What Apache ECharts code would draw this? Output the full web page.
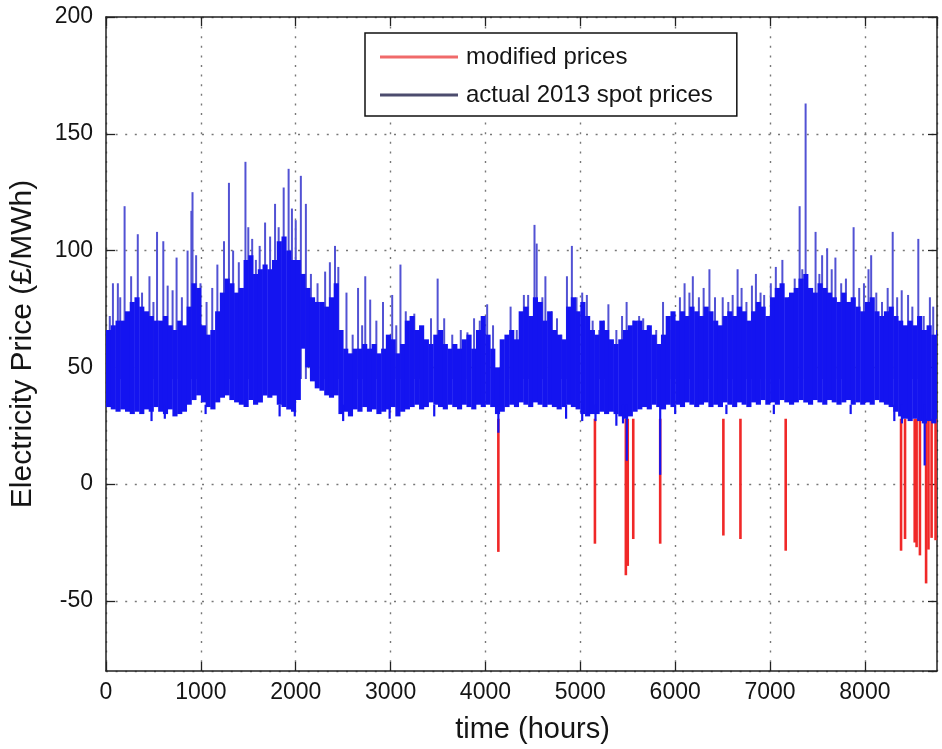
<!DOCTYPE html>
<html><head><meta charset="utf-8">
<script src="https://cdn.jsdelivr.net/npm/echarts@6/dist/echarts.min.js"></script>
<style>html,body{margin:0;padding:0;background:#fff}#c{width:942px;height:749px}</style>
</head><body><div id="c"></div><script>
// ---- data ----
const seriesNames = ['modified prices', 'actual 2013 spot prices'];
const xTitle = 'time (hours)';
const yTitle = 'Electricity Price (£/MWh)';

// dense body of the hourly prices: one [low, high] envelope per 50-hour block, starting at hour 0
const bandStepHours = 50;
const bandHigh = [
  66,68,70,70,74,78,80,76,74,72, 70,70,72,68,66,70,68,76,86,84,
  68,64,66,74,82,88,86,82,84,96, 98,90,92,94,92,96,104,106,100,96,
  96,90,84,80,78,78,76,80,86,66, 58,56,58,58,60,58,60,56,58,64,
  62,56,60,70,72,66,68,62,60,64, 66,60,58,60,58,62,64,58,66,72,
  64,58,50,62,64,66,62,74,76,72, 80,78,70,74,66,64,62,76,80,74,
  78,72,66,64,70,66,62,60,62,66, 68,70,70,66,68,64,60,64,72,74,
  70,74,72,76,74,72,76,74,70,68, 72,74,72,76,74,70,74,78,76,72,
  80,84,86,80,82,84,88,90,84,82, 86,84,82,80,78,82,78,80,76,74,
  78,80,74,72,74,76,72,70,68,70, 68,72,66,68,64,66];
const bandLow = [
  33,32,31,32,31,30,31,30,32,31, 33,31,30,32,29,30,31,34,36,38,
  35,33,32,35,37,38,36,35,34,33, 36,34,35,38,37,38,34,33,32,31,
  36,58,50,44,41,40,38,37,38,30, 31,29,32,31,33,31,32,30,31,32,
  33,29,31,32,33,34,32,33,35,34, 33,32,34,33,32,34,33,32,34,33,
  34,33,30,31,33,34,33,35,34,33, 35,34,33,34,33,32,33,34,33,32,
  30,29,30,30,31,30,31,30,29,28, 29,31,32,33,32,34,33,32,34,33,
  34,33,35,34,33,34,35,33,34,33, 35,34,33,35,34,33,35,34,36,34,
  35,34,36,35,34,35,36,35,34,36, 35,34,36,35,34,35,36,34,35,34,
  35,34,36,35,34,33,31,29,28,27, 28,27,26,27,26,28];

// individual price spikes [hour, £/MWh]
const blueSpikes = [[40,72],[73,86],[125,86],[150,80],[196,119],[265,89],[335,107],[380,82],[458,89],[500,78],
  [538,108],[604,104],[650,85],[702,83],[744,97],[800,80],[860,100],[900,117],[912,125],[950,98],
  [996,86],[1060,78],[1120,84],[1174,94],[1244,104],[1296,129],[1340,100],[1400,95],[1470,138],[1500,110],
  [1541,105],[1580,96],[1620,102],[1677,112],[1730,106],[1782,120],[1820,110],[1873,127],[1925,135],[1960,118],
  [2000,113],[2054,132],[2107,120],[2160,90],[2230,86],[2310,91],[2360,95],[2414,102],[2449,93],[2535,82],
  [2600,64],[2657,84],[2700,68],[2733,89],[2785,79],[2850,70],[2920,78],[3017,81],[3060,68],[3104,94],
  [3160,74],[3250,73],[3300,66],[3426,71],[3496,88],[3565,71],[3650,64],[3740,66],[3810,65],[3880,71],
  [3940,70],[4018,77],[4080,68],[4265,76],[4330,66],[4405,81],[4450,81],[4517,111],[4540,103],[4600,80],
  [4632,89],[4700,74],[4754,71],[4800,64],[4859,89],[4911,102],[4960,80],[5020,82],[5069,81],[5130,70],
  [5200,66],[5250,70],[5296,77],[5380,66],[5440,72],[5488,78],[5560,70],[5620,72],[5663,71],[5720,68],
  [5800,66],[5872,78],[5940,66],[6000,70],[6050,80],[6099,86],[6150,82],[6186,89],[6250,80],[6300,84],
  [6361,92],[6420,80],[6501,80],[6560,78],[6606,81],[6658,92],[6700,84],[6751,78],[6809,85],[6851,90],
  [6900,82],[6938,81],[7008,86],[7061,93],[7100,84],[7130,96],[7200,80],[7260,88],[7312,119],[7340,92],
  [7375,163],[7427,83],[7480,108],[7520,90],[7549,98],[7602,101],[7650,92],[7689,97],[7750,86],[7800,88],
  [7881,110],[7940,84],[7990,86],[8038,92],[8066,98],[8120,82],[8180,78],[8240,84],[8293,108],[8340,80],
  [8388,83],[8455,81],[8500,76],[8563,105],[8620,72],[8685,80],[8720,76]];
// low dips of the actual prices [hour, £/MWh]
const blueDips = [[480,27],[620,28],[1050,30],[1830,29],[1990,29],[2500,27],[2990,28],[3460,29],[4136,22],
  [4850,28],[5020,27],[5160,27],[5380,25],[5450,26],[5490,10],[5842,4],[6000,30],[6540,30],[7040,30],
  [7850,30],[8310,27],[8390,26],[8630,8]];
// negative spikes of the modified prices [hour, £/MWh]
const redSpikes = [[4136,-29],[5154,-25.5],[5480,-39],[5500,-35],[5558,-23.5],[5842,-25.5],[6508,-22],
  [6688,-23.5],[7165,-28.5],[8381,-28.5],[8423,-23.5],[8525,-25],[8545,-27],[8580,-30.5],[8645,-42.5],
  [8670,-28],[8703,-23],[8745,-24]];

const xTicks = {min: 0, max: 8760, interval: 1000};
const yTicks = {min: -80, max: 200, step: 50};

// ---- drawing ----
const FONT = '"Liberation Sans", Arial, Helvetica, sans-serif';
const BLUE = '#1414f0';
const chart = echarts.init(document.getElementById('c'));

const bandItems = bandHigh.map((hi, i) => [i * bandStepHours, bandLow[i], hi, (i + 1) * bandStepHours]);
function bandRender(params, api) {
  const a = api.coord([api.value(0), api.value(2)]);
  const b = api.coord([Math.min(api.value(3), xTicks.max), api.value(1)]);
  return {type: 'rect', shape: {x: a[0], y: a[1], width: b[0] - a[0] + 0.4, height: b[1] - a[1]},
          style: {fill: BLUE}};
}
function segRender(base, color, width) {
  return function (params, api) {
    const a = api.coord([api.value(0), base]);
    const b = api.coord([api.value(0), api.value(1)]);
    return {type: 'line', shape: {x1: a[0], y1: a[1], x2: b[0], y2: b[1]}, style: {stroke: color, lineWidth: width}};
  };
}

const axisLine = {show: true, onZero: false, lineStyle: {color: '#222', width: 1.5}};
const tick = {show: true, inside: true, length: 9, lineStyle: {color: '#222', width: 1.3}};
const split = {show: true, lineStyle: {color: '#777', width: 1.4, type: [2, 7.6]}};
const lab = {color: '#151515', fontFamily: FONT, fontSize: 23, formatter: v => String(v)};

chart.setOption({
  animation: false,
  backgroundColor: '#fff',
  grid: {left: 103, right: 5, top: 17, bottom: 76, containLabel: false},
  legend: {
    orient: 'vertical', left: 365, top: 33,
    padding: [11, 24, 8, 15], itemGap: 12,
    itemWidth: 78, itemHeight: 3,
    backgroundColor: '#fff', borderColor: '#111', borderWidth: 1.5, borderRadius: 0,
    textStyle: {color: '#151515', fontFamily: FONT, fontSize: 24, lineHeight: 26, padding: [0, 0, 0, 3]},
    data: [
      {name: seriesNames[0], icon: 'rect', itemStyle: {color: '#f06a6a'}},
      {name: seriesNames[1], icon: 'rect', itemStyle: {color: '#4c4c6e'}}
    ]
  },
  xAxis: [{
    type: 'value', min: xTicks.min, max: xTicks.max, interval: xTicks.interval,
    name: xTitle, nameLocation: 'middle', nameGap: 44,
    nameTextStyle: {color: '#151515', fontFamily: FONT, fontSize: 29, padding: [0, 0, 0, 22]},
    axisLine: axisLine, axisTick: tick, splitLine: split,
    axisLabel: Object.assign({margin: 10, showMaxLabel: false}, lab)
  }, {
    type: 'value', position: 'top', min: xTicks.min, max: xTicks.max, interval: xTicks.interval,
    axisLine: axisLine, axisTick: tick, splitLine: {show: false}, axisLabel: {show: false}
  }],
  yAxis: [{
    type: 'value', min: yTicks.min, max: yTicks.max, minInterval: yTicks.step, maxInterval: yTicks.step, splitNumber: 5,
    name: yTitle, nameLocation: 'middle', nameGap: 68,
    nameTextStyle: {color: '#151515', fontFamily: FONT, fontSize: 30},
    axisLine: axisLine, axisTick: tick, splitLine: split,
    axisLabel: Object.assign({margin: 13, showMinLabel: false}, lab)
  }, {
    type: 'value', position: 'right', min: yTicks.min, max: yTicks.max, minInterval: yTicks.step, maxInterval: yTicks.step, splitNumber: 5,
    axisLine: axisLine, axisTick: tick, splitLine: {show: false}, axisLabel: {show: false}
  }],
  series: [
    {name: seriesNames[0], type: 'custom', z: 2, clip: true, itemStyle: {color: '#f06a6a'},
     renderItem: segRender(28, '#f02828', 2.6), data: redSpikes},
    {name: seriesNames[1], type: 'custom', z: 3, clip: true, itemStyle: {color: '#4c4c6e'},
     renderItem: segRender(45, '#5252d4', 2), data: blueSpikes},
    {name: seriesNames[1], type: 'custom', z: 4, clip: true, itemStyle: {color: '#4c4c6e'},
     renderItem: bandRender, encode: {x: [0, 3], y: [1, 2]}, data: bandItems},
    {name: seriesNames[1], type: 'custom', z: 5, clip: true, itemStyle: {color: '#4c4c6e'},
     renderItem: segRender(34, BLUE, 2.2), data: blueDips}
  ]
});
</script></body></html>
